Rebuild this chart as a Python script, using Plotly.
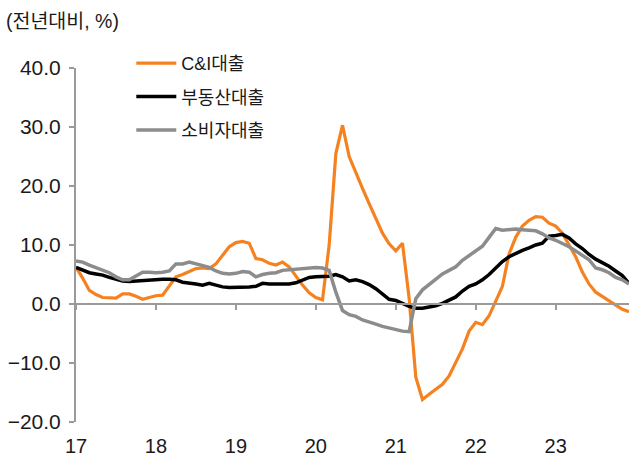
import plotly.graph_objects as go

years = [17, 18, 19, 20, 21, 22, 23]
year_labels = ["17", "18", "19", "20", "21", "22", "23"]
y_ticks = [-20, -10, 0, 10, 20, 30, 40]

# monthly data, Jan 2017 - Dec 2023 (YoY %)
ci_loan = [
    6.2, 4.4, 2.3, 1.6, 1.1, 1.0, 1.0, 1.7, 1.7, 1.3, 0.8, 1.1,
    1.4, 1.5, 3.0, 4.6, 5.0, 5.5, 6.0, 6.1, 6.0, 6.8, 8.2, 9.7,
    10.4, 10.6, 10.3, 7.7, 7.5, 6.9, 6.6, 7.1, 6.3, 4.7, 3.2, 1.9,
    1.1, 0.7, 10.0, 25.5, 30.3, 25.0, 22.2, 19.6, 17.0, 14.5, 12.0, 10.2,
    9.0, 10.3, 1.0, -12.4, -16.2, -15.3, -14.4, -13.6, -12.2, -10.0, -7.6, -4.6,
    -3.1, -3.5, -2.0, 0.5, 3.0, 8.5, 11.3, 13.2, 14.2, 14.8, 14.7, 13.7,
    13.2, 12.0, 10.0, 8.0, 5.4, 3.4, 2.0, 1.3, 0.6, -0.1, -0.9, -1.3,
]
re_loan = [
    6.2, 5.7, 5.3, 5.1, 4.9, 4.5, 4.2, 3.9, 3.8, 3.9, 4.0, 4.1,
    4.2, 4.2, 4.2, 4.1, 3.7, 3.6, 3.4, 3.2, 3.5, 3.2, 2.9, 2.8,
    2.8, 2.8, 2.9, 3.0, 3.5, 3.4, 3.4, 3.5, 3.4, 3.6, 4.0, 4.5,
    4.6, 4.6, 4.7, 5.0, 4.6, 3.9, 4.1, 3.8, 3.3, 2.6, 1.7, 0.8,
    0.6, 0.1, -0.4, -0.7, -0.7, -0.5, -0.3, 0.1, 0.6, 1.2, 2.2, 3.0,
    3.4, 4.1, 5.0, 6.2, 7.2, 8.0, 8.6, 9.1, 9.5, 10.0, 10.3, 11.5,
    11.6, 11.8, 11.2, 10.2, 9.4, 8.4, 7.6, 7.0, 6.4, 5.6, 4.8, 3.5,
]
cons_loan = [
    7.3, 7.1, 6.6, 6.2, 5.8, 5.3, 4.6, 4.1, 4.1, 4.8, 5.4, 5.4,
    5.3, 5.4, 5.6, 6.8, 6.8, 7.1, 6.8, 6.6, 6.2, 5.6, 5.2, 5.1,
    5.2, 5.5, 5.4, 4.6, 5.0, 5.2, 5.3, 5.7, 5.8, 5.9, 6.0, 6.2,
    6.2, 6.1, 5.7, 2.0, -1.1, -1.8, -2.1, -2.7, -3.0, -3.4, -3.8, -4.1,
    -4.4, -4.6, -4.7, 0.9, 2.4, 3.3, 4.2, 5.1, 5.7, 6.3, 7.4, 8.2,
    9.0, 9.8, 11.3, 12.8, 12.5, 12.6, 12.7, 12.6, 12.5, 12.4, 11.9, 11.2,
    10.8, 10.3, 9.7, 9.0, 8.3, 7.5, 6.1, 5.8, 5.3, 4.5, 4.1, 3.4,
]
months = [17 + i / 12 for i in range(len(ci_loan))]

series = [
    ("C&I대출", ci_loan, "#F58220", 3.2),
    ("부동산대출", re_loan, "#000000", 3.5),
    ("소비자대출", cons_loan, "#8C8C8C", 3.5),
]

FONT = "Liberation Sans, Arial, Noto Sans CJK KR, sans-serif"
AX = "#9A9A9A"

fig = go.Figure()
for i, (name, vals, color, w) in enumerate(series):
    fig.add_trace(go.Scatter(
        x=months, y=vals, mode="lines", name=name,
        line=dict(color=color, width=w), legendgroup=str(i),
    ))
# invisible trace to bind the zero-line axis
fig.add_trace(go.Scatter(x=[17], y=[0], xaxis="x2", mode="markers",
                         marker=dict(opacity=0), showlegend=False, hoverinfo="skip"))

x_range = [17, 17 + 83 / 12]
fig.update_layout(
    width=634, height=457,
    margin=dict(l=76, r=5, t=68, b=35, autoexpand=False),
    paper_bgcolor="white", plot_bgcolor="white",
    font=dict(family=FONT, size=21, color="#1a1a1a"),
    showlegend=True,
    legend=dict(
        x=0.1, y=1.065, xanchor="left", yanchor="top",
        font=dict(size=18, color="#1a1a1a"),
        bgcolor="rgba(0,0,0,0)", tracegroupgap=7,
        itemwidth=40,
    ),
    xaxis=dict(
        range=x_range, tickvals=years, ticktext=year_labels,
        showline=False, showgrid=False, zeroline=False, ticks="",
        tickfont=dict(size=20), ticklabelstandoff=10,
    ),
    xaxis2=dict(
        range=x_range, matches="x", overlaying="x", anchor="free", position=1 / 3,
        side="bottom", showline=True, linecolor=AX, linewidth=2,
        ticks="outside", ticklen=5, tickwidth=1.5, tickcolor=AX,
        tickvals=years, showticklabels=False, showgrid=False, zeroline=False,
    ),
    yaxis=dict(
        range=[-20, 40], tickvals=y_ticks, tickformat=".1f",
        showline=True, linecolor=AX, linewidth=2,
        ticks="outside", ticklen=5, tickwidth=1.5, tickcolor=AX,
        showgrid=False, zeroline=False, tickfont=dict(size=21),
        ticklabelstandoff=4,
    ),
    annotations=[dict(
        text="(전년대비, %)", xref="paper", yref="paper",
        x=-0.131, y=1.133, xanchor="left", yanchor="middle",
        showarrow=False, font=dict(size=19.5, color="#1a1a1a"),
    )],
)

fig.write_html(
    "out.html",
    config={"displayModeBar": False},
    post_script="document.body.style.margin='0';document.body.style.overflow='hidden';",
)
